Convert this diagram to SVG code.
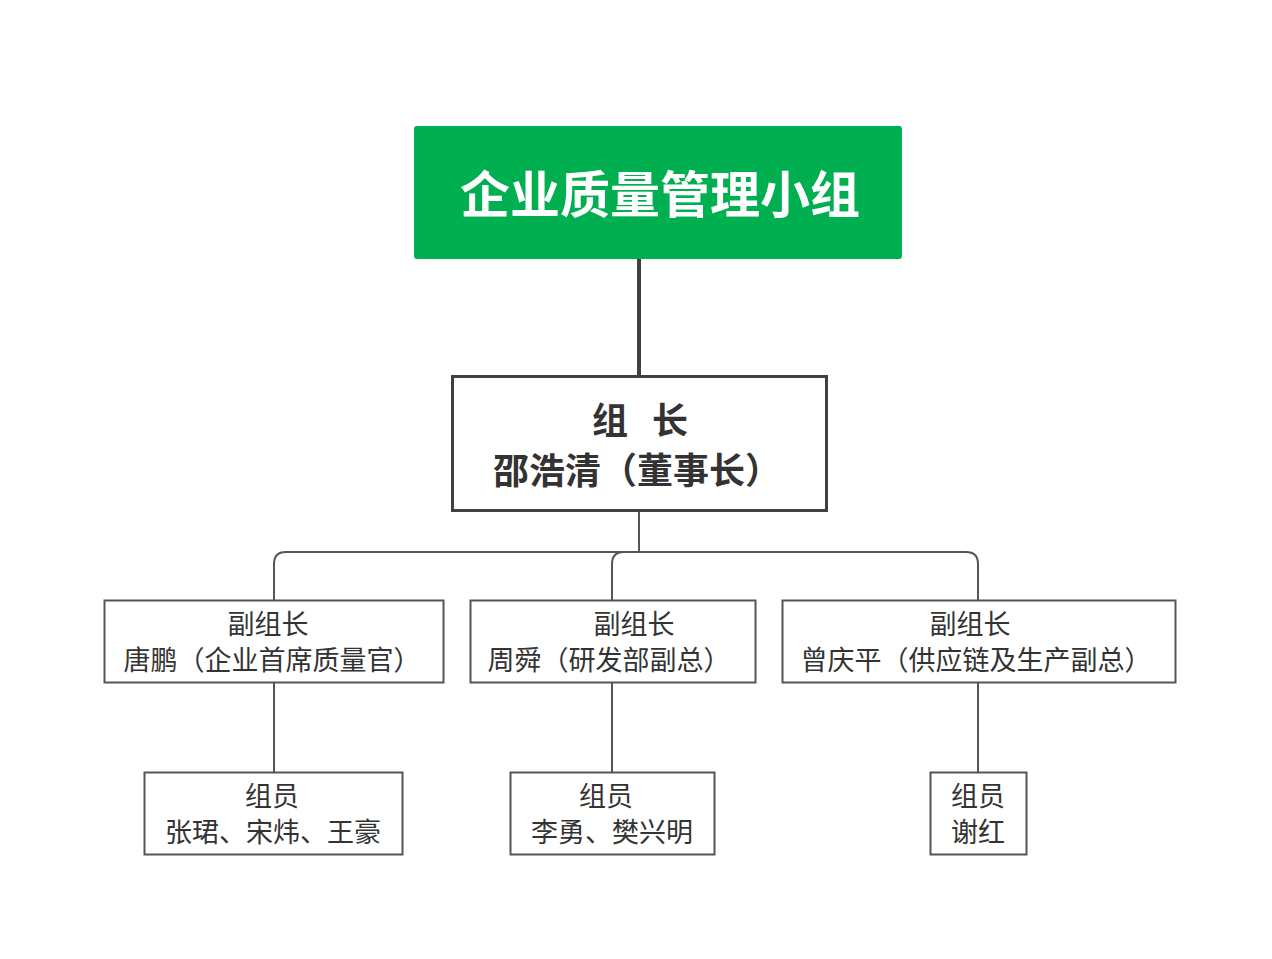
<svg xmlns="http://www.w3.org/2000/svg" width="1272" height="959" viewBox="0 0 1272 959">
<style>
text{font-family:"Noto Sans CJK SC","Noto Sans",sans-serif;fill:#333;}
.t{font-size:50px;font-weight:bold;fill:#fff;text-anchor:middle;}
.l{font-size:36px;font-weight:bold;text-anchor:middle;}
.n{font-size:27px;text-anchor:middle;}
.box{fill:#fff;stroke:#555;stroke-width:2;}
.conn{fill:none;stroke:#555;stroke-width:2;}
</style>
<rect width="1272" height="959" fill="#fff"/>
<g id="connectors">
<line x1="639" y1="259" x2="639" y2="376" stroke="#404040" stroke-width="4"/>
<path class="conn" d="M639 511 V552"/>
<path class="conn" d="M274 600 V564 Q274 552 286 552 H966 Q978 552 978 564 V600"/>
<path class="conn" d="M612 600 V564 Q612 552 624 552"/>
<path class="conn" d="M274 682 V772"/>
<path class="conn" d="M612 682 V772"/>
<path class="conn" d="M978 682 V772"/>
</g>
<g id="n-top">
<rect x="414" y="126" width="488" height="133" rx="3" fill="#00AF50"/>
<text class="t" x="660" y="213">企业质量管理小组</text>
</g>
<g id="n-leader">
<rect x="452.5" y="376.5" width="374" height="134" fill="#fff" stroke="#404040" stroke-width="3"/>
<text class="l" x="640" y="434"><tspan x="610">组</tspan><tspan x="670">长</tspan></text>
<text class="l" x="637" y="484">邵浩清（董事长）</text>
</g>
<g id="n-v1">
<rect class="box" x="104.5" y="600.5" width="339" height="82"/>
<text class="n" x="268" y="634">副组长</text>
<text class="n" x="272" y="670">唐鹏（企业首席质量官）</text>
</g>
<g id="n-v2">
<rect class="box" x="470.5" y="600.5" width="285" height="82"/>
<text class="n" x="634" y="634">副组长</text>
<text class="n" x="609" y="670">周舜（研发部副总）</text>
</g>
<g id="n-v3">
<rect class="box" x="782.5" y="600.5" width="393" height="82"/>
<text class="n" x="970" y="634">副组长</text>
<text class="n" x="976" y="670">曾庆平（供应链及生产副总）</text>
</g>
<g id="n-m1">
<rect class="box" x="144.5" y="772.5" width="258" height="82"/>
<text class="n" x="272" y="806">组员</text>
<text class="n" x="273" y="842">张珺、宋炜、王豪</text>
</g>
<g id="n-m2">
<rect class="box" x="510.5" y="772.5" width="204" height="82"/>
<text class="n" x="606" y="806">组员</text>
<text class="n" x="612" y="842">李勇、樊兴明</text>
</g>
<g id="n-m3">
<rect class="box" x="930.5" y="772.5" width="96" height="82"/>
<text class="n" x="978" y="806">组员</text>
<text class="n" x="978" y="842">谢红</text>
</g>
</svg>
